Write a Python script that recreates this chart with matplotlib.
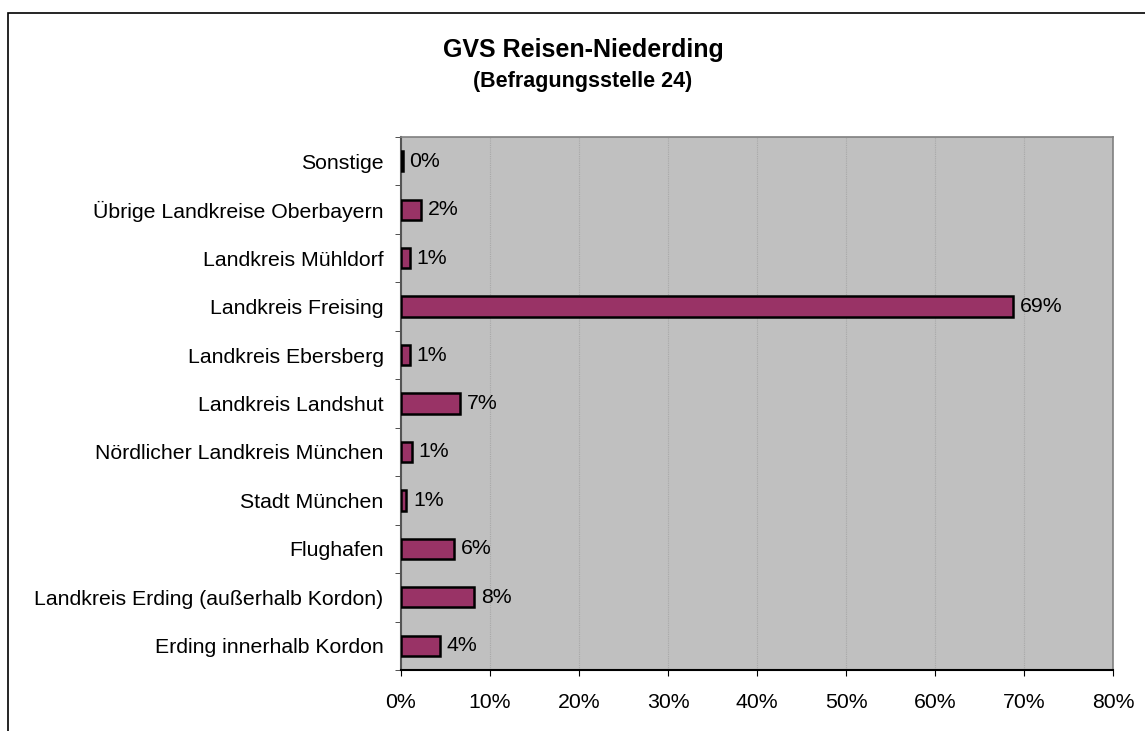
import matplotlib
matplotlib.use("Agg")
import matplotlib.pyplot as plt
from matplotlib.patches import Rectangle
from matplotlib.ticker import FixedLocator, PercentFormatter

plt.rcParams['font.family'] = ['Liberation Sans', 'DejaVu Sans']

# destinations, bottom to top
categories = [
    "Erding innerhalb Kordon",
    "Landkreis Erding (außerhalb Kordon)",
    "Flughafen",
    "Stadt München",
    "Nördlicher Landkreis München",
    "Landkreis Landshut",
    "Landkreis Ebersberg",
    "Landkreis Freising",
    "Landkreis Mühldorf",
    "Übrige Landkreise Oberbayern",
    "Sonstige",
]
shares = [4.4, 8.2, 6.0, 0.6, 1.2, 6.6, 1.0, 68.8, 1.0, 2.3, 0.2]

FS = 15.3

fig = plt.figure(figsize=(11.45, 7.31), dpi=100)
ax = fig.add_axes([401 / 1145, 1 - 670 / 731, 712 / 1145, 533 / 731])

# outer chart frame (right/bottom edges run off the image)
fig.patches.append(Rectangle((8 / 1145, -0.1), 1.2, 1 - 13 / 731 + 0.1,
                             transform=fig.transFigure, fill=False,
                             edgecolor='black', linewidth=1.2))

ypos = list(range(len(categories)))
ax.barh(ypos, shares, height=0.42, color='#993366', edgecolor='black',
        linewidth=1.8, zorder=3)

for y, v in zip(ypos, shares):
    ax.text(v + 0.75, y, f"{round(v):.0f}%", va='center', ha='left',
            fontsize=FS, zorder=4)

ax.set_facecolor('#C0C0C0')
ax.set_xlim(0, 80)
ax.set_ylim(-0.5, len(categories) - 0.5)
ax.set_xticks(range(0, 81, 10))
ax.xaxis.set_major_formatter(PercentFormatter(decimals=0))
ax.grid(axis='x', color='#A8A8A8', linewidth=0.8, linestyle=(0, (1, 1)), zorder=1)

ax.set_yticks(ypos)
ax.set_yticklabels(categories)
ax.yaxis.set_minor_locator(FixedLocator([i - 0.5 for i in range(len(categories) + 1)]))
ax.tick_params(axis='y', which='major', length=0, pad=12.5, labelsize=FS)
ax.tick_params(axis='y', which='minor', length=4.5, direction='out', color='#333333')
ax.tick_params(axis='x', length=4.5, direction='out', pad=12, labelsize=FS)

for side in ('top', 'right'):
    ax.spines[side].set_color('#808080')
    ax.spines[side].set_linewidth(1.2)
ax.spines['left'].set_color('#555555')
ax.spines['left'].set_linewidth(1.5)
ax.spines['bottom'].set_color('black')
ax.spines['bottom'].set_linewidth(1.5)

fig.text(583 / 1145, 1 - 57 / 731, "GVS Reisen-Niederding", ha='center',
         va='baseline', fontsize=18, fontweight='bold')
fig.text(583 / 1145, 1 - 87 / 731, "(Befragungsstelle 24)", ha='center',
         va='baseline', fontsize=15.5, fontweight='bold')

fig.savefig("out.png", dpi=100)
